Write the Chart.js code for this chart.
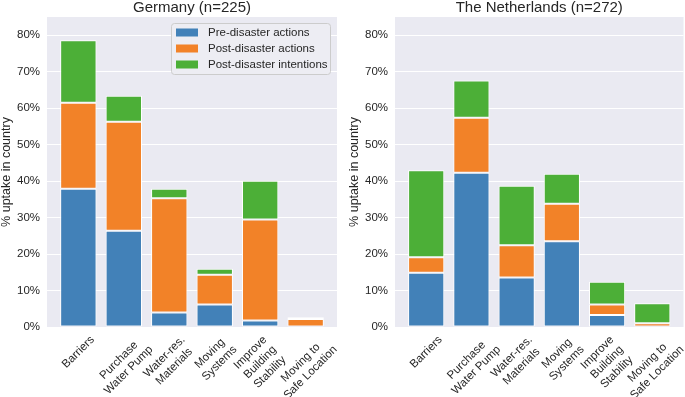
<!DOCTYPE html>
<html>
<head>
<meta charset="utf-8">
<script src="https://cdn.jsdelivr.net/npm/chart.js@4"></script>
<style>
  body { margin: 0; background: #fff; }
  canvas { position: absolute; top: 0; }
  #de { left: 0; }
  #nl { left: 340px; }
</style>
</head>
<body>
<canvas id="de" width="340" height="397"></canvas>
<canvas id="nl" width="345" height="397"></canvas>
<script>
// data (percent of respondents per country, stacked segments)
const categories = [
  ['Barriers'],
  ['Purchase', 'Water Pump'],
  ['Water-res.', 'Materials'],
  ['Moving', 'Systems'],
  ['Improve', 'Building', 'Stability'],
  ['Moving to', 'Safe Location']
];
const seriesNames = ['Pre-disaster actions', 'Post-disaster actions', 'Post-disaster intentions'];
const seriesColors = ['#4281b8', '#f28228', '#4caf37'];

const dePre        = [37.9, 26.4, 4.0, 6.2, 1.8, 0.0];
const dePost       = [23.6, 29.9, 31.3, 8.1, 27.7, 2.2];
const deIntentions = [17.1, 7.1, 2.6, 1.7, 10.6, 0.5];

const nlPre        = [14.9, 42.3, 13.6, 23.5, 3.3, 0.0];
const nlPost       = [4.2, 15.1, 8.8, 10.3, 2.9, 1.0];
const nlIntentions = [23.9, 10.2, 16.3, 8.2, 6.2, 5.5];

const yTicks = [0, 10, 20, 30, 40, 50, 60, 70, 80];

const TEXT = '#262626';
const TICK_SIZE = 11.5;
Chart.defaults.font.family = '"Liberation Sans", Arial, sans-serif';
Chart.defaults.color = TEXT;

// grey plot background like seaborn darkgrid
const plotBg = {
  id: 'plotBg',
  beforeDraw(chart) {
    const { ctx, chartArea: { left, top, width, height } } = chart;
    ctx.save();
    ctx.fillStyle = '#eaeaf2';
    ctx.fillRect(left, top, width, height);
    ctx.restore();
  }
};

// rotated, centred category labels (matplotlib rotation=45)
const xLabels = {
  id: 'xLabels',
  afterDraw(chart) {
    const { ctx, chartArea, scales: { x } } = chart;
    const lh = TICK_SIZE * 1.2;
    ctx.save();
    ctx.font = `${TICK_SIZE}px "Liberation Sans", Arial, sans-serif`;
    ctx.fillStyle = TEXT;
    ctx.textAlign = 'center';
    ctx.textBaseline = 'middle';
    categories.forEach((lines, i) => {
      const w = Math.max(...lines.map(l => ctx.measureText(l).width));
      const h = lines.length * lh;
      const boxH = (w + h) * Math.SQRT1_2;
      const cx = x.getPixelForValue(i);
      const cy = chartArea.bottom + 6 + boxH / 2;
      ctx.save();
      ctx.translate(cx, cy);
      ctx.rotate(-Math.PI / 4);
      lines.forEach((l, j) => ctx.fillText(l, 0, (j - (lines.length - 1) / 2) * lh));
      ctx.restore();
    });
    ctx.restore();
  }
};

// framed legend in the upper right of the plot
const boxLegend = {
  id: 'boxLegend',
  afterDraw(chart) {
    const { ctx, chartArea } = chart;
    const bw = 159, bh = 51;
    const bx = chartArea.right - 7 - bw;
    const by = chartArea.top + 6;
    ctx.save();
    ctx.fillStyle = '#ededf3';
    ctx.strokeStyle = '#cccccc';
    ctx.lineWidth = 1;
    ctx.beginPath();
    ctx.roundRect(bx + 0.5, by + 0.5, bw, bh, 3);
    ctx.fill();
    ctx.stroke();
    ctx.font = `${TICK_SIZE}px "Liberation Sans", Arial, sans-serif`;
    ctx.textBaseline = 'middle';
    chart.data.datasets.forEach((ds, i) => {
      const cy = by + 9.5 + i * 16;
      ctx.fillStyle = ds.backgroundColor;
      ctx.fillRect(bx + 5, cy - 4, 22, 8);
      ctx.fillStyle = TEXT;
      ctx.fillText(ds.label, bx + 37, cy);
    });
    ctx.restore();
  }
};

function makeChart(id, title, series, padLeft, padRight, withLegend) {
  const datasets = series.map((vals, k) => ({
    label: seriesNames[k],
    data: vals.map((v, i) => ({ x: i, y: v })),
    backgroundColor: seriesColors[k],
    borderColor: '#ffffff',
    borderWidth: 1,
    borderSkipped: false,
    categoryPercentage: 1,
    barPercentage: 0.8
  }));
  return new Chart(document.getElementById(id), {
    type: 'bar',
    data: { datasets },
    options: {
      responsive: false,
      animation: false,
      layout: { padding: { left: padLeft, right: padRight, top: 0, bottom: 0 } },
      plugins: {
        legend: { display: false },
        tooltip: { enabled: false },
        title: {
          display: true,
          fullSize: false,
          text: title,
          color: TEXT,
          font: { size: 15, weight: 'normal', lineHeight: 1 },
          padding: { top: 0, bottom: 2 }
        }
      },
      scales: {
        x: {
          type: 'linear',
          stacked: true,
          offset: false,
          min: -0.69,
          max: 5.69,
          grid: { display: false, offset: false },
          border: { display: false },
          ticks: { display: false },
          afterFit(scale) { scale.height = 70; }
        },
        y: {
          stacked: true,
          min: 0,
          max: 85,
          border: { display: false },
          grid: { color: '#ffffff', lineWidth: 1, drawTicks: false },
          title: {
            display: true,
            text: '% uptake in country',
            color: TEXT,
            font: { size: 12.5, lineHeight: 1 },
            padding: 0
          },
          ticks: {
            padding: 7,
            color: TEXT,
            font: { size: TICK_SIZE },
            callback: v => v + '%'
          },
          afterBuildTicks(scale) { scale.ticks = yTicks.map(v => ({ value: v })); },
          afterFit(scale) { scale.width = 47; }
        }
      }
    },
    plugins: withLegend ? [plotBg, xLabels, boxLegend] : [plotBg, xLabels]
  });
}

makeChart('de', 'Germany (n=225)', [dePre, dePost, deIntentions], 0, 3, true);
makeChart('nl', 'The Netherlands (n=272)', [nlPre, nlPost, nlIntentions], 8, 1.5, false);
</script>
</body>
</html>
